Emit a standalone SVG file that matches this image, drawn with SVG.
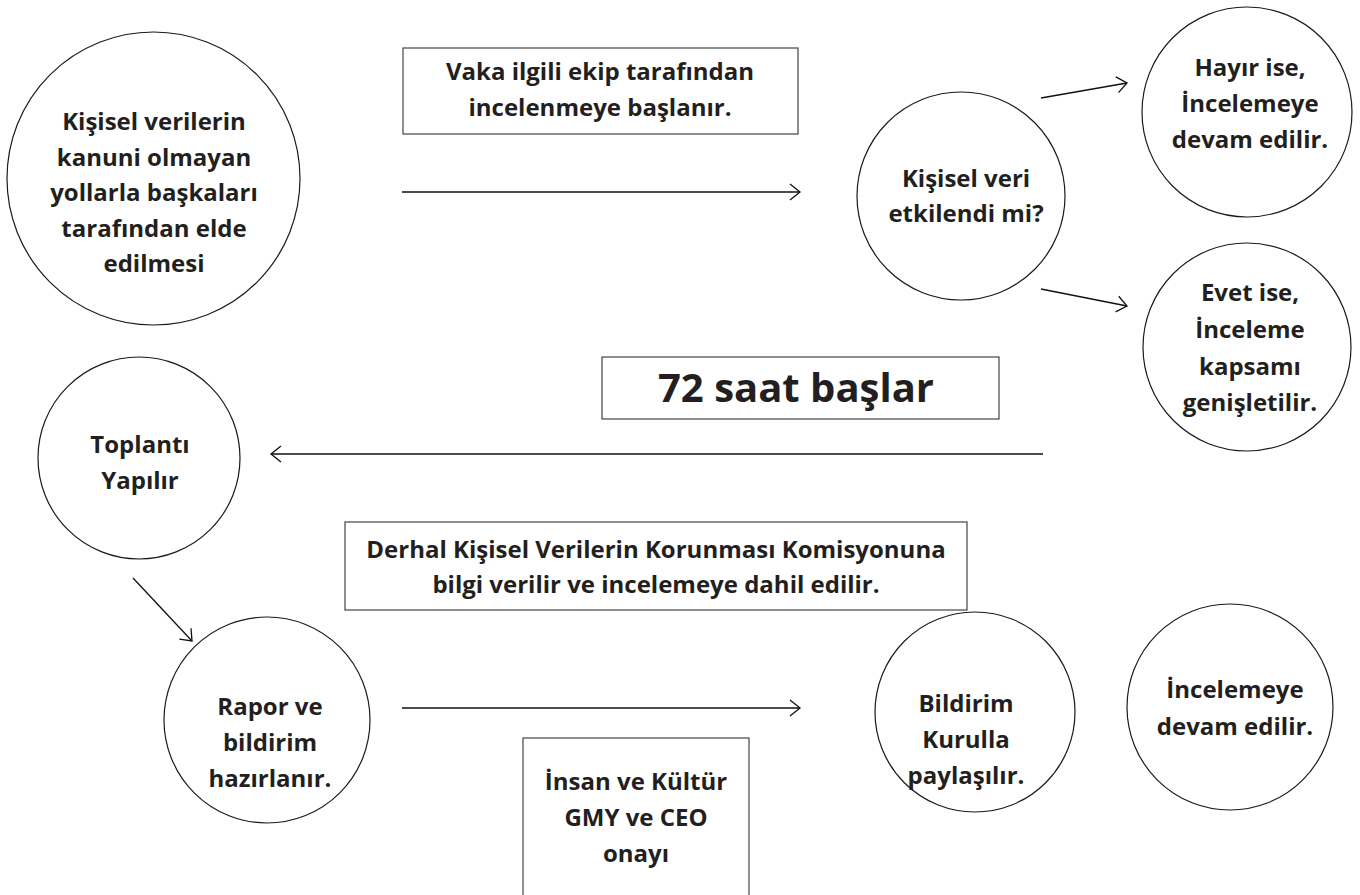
<svg xmlns="http://www.w3.org/2000/svg" width="1360" height="895" viewBox="0 0 1360 895">
<defs>
<style>
.n{fill:#fff;stroke:#1a1a1a;stroke-width:1.2}
.b{fill:#fff;stroke:#444;stroke-width:1.2}
.t{font-family:"Open Sans","Liberation Sans",sans-serif;font-weight:700;font-size:24px;fill:#231f20;text-anchor:middle}
.big{font-size:40px}
.c{stroke:#111;stroke-width:1.3;fill:none;marker-end:url(#ah)}
</style>
<marker id="ah" markerUnits="userSpaceOnUse" markerWidth="14" markerHeight="20" refX="11" refY="10" orient="auto" viewBox="0 0 14 20">
<path d="M1,2 L11,10 L1,18" fill="none" stroke="#111" stroke-width="1.3"/>
</marker>
</defs>
<rect width="1360" height="895" fill="#fff"/>

<g id="connectors">
<line class="c" x1="402" y1="192" x2="800" y2="192"/>
<line class="c" x1="1041" y1="98" x2="1127" y2="83"/>
<line class="c" x1="1041" y1="289" x2="1127" y2="306"/>
<line class="c" x1="1043" y1="454" x2="271" y2="454"/>
<line class="c" x1="133" y1="578" x2="192" y2="641"/>
<line class="c" x1="402" y1="708" x2="800" y2="708"/>
</g>

<g id="n1">
<circle class="n" cx="153.5" cy="178.5" r="146.5"/>
<text class="t" x="154" y="130">Kişisel verilerin</text>
<text class="t" x="154" y="166">kanuni olmayan</text>
<text class="t" x="154" y="201">yollarla başkaları</text>
<text class="t" x="154" y="237">tarafından elde</text>
<text class="t" x="154" y="272">edilmesi</text>
</g>

<g id="n2">
<rect class="b" x="403" y="48" width="395" height="86"/>
<text class="t" x="600" y="80">Vaka ilgili ekip tarafından</text>
<text class="t" x="600" y="116">incelenmeye başlanır.</text>
</g>

<g id="n3">
<circle class="n" cx="961" cy="196" r="104"/>
<text class="t" x="966" y="187">Kişisel veri</text>
<text class="t" x="966" y="222">etkilendi mi?</text>
</g>

<g id="n4">
<circle class="n" cx="1247" cy="112" r="105"/>
<text class="t" x="1250" y="76">Hayır ise,</text>
<text class="t" x="1250" y="112">İncelemeye</text>
<text class="t" x="1250" y="148">devam edilir.</text>
</g>

<g id="n5">
<circle class="n" cx="1247" cy="347" r="104"/>
<text class="t" x="1250" y="301">Evet ise,</text>
<text class="t" x="1250" y="338">İnceleme</text>
<text class="t" x="1250" y="375">kapsamı</text>
<text class="t" x="1250" y="411">genişletilir.</text>
</g>

<g id="n6">
<rect class="b" x="602" y="357" width="397" height="62"/>
<text class="t big" x="796" y="402">72 saat başlar</text>
</g>

<g id="n7">
<circle class="n" cx="139" cy="458" r="101"/>
<text class="t" x="140" y="453">Toplantı</text>
<text class="t" x="140" y="489">Yapılır</text>
</g>

<g id="n11">
<circle class="n" cx="975" cy="712" r="100"/>
<text class="t" x="966" y="712">Bildirim</text>
<text class="t" x="966" y="748">Kurulla</text>
<text class="t" x="966" y="784">paylaşılır.</text>
</g>

<g id="n8">
<rect class="b" x="345" y="522" width="622" height="88"/>
<text class="t" x="656" y="558">Derhal Kişisel Verilerin Korunması Komisyonuna</text>
<text class="t" x="656" y="593">bilgi verilir ve incelemeye dahil edilir.</text>
</g>

<g id="n9">
<circle class="n" cx="267" cy="720" r="103"/>
<text class="t" x="270" y="715">Rapor ve</text>
<text class="t" x="270" y="751">bildirim</text>
<text class="t" x="270" y="787">hazırlanır.</text>
</g>

<g id="n10">
<rect class="b" x="523" y="738" width="226" height="170"/>
<text class="t" x="636" y="790">İnsan ve Kültür</text>
<text class="t" x="636" y="826">GMY ve CEO</text>
<text class="t" x="636" y="862">onayı</text>
</g>

<g id="n12">
<circle class="n" cx="1230" cy="707" r="103"/>
<text class="t" x="1235" y="698">İncelemeye</text>
<text class="t" x="1235" y="735">devam edilir.</text>
</g>
</svg>
